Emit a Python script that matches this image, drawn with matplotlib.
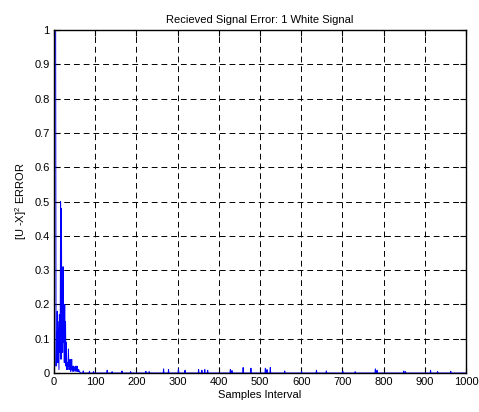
import numpy as np
import matplotlib
matplotlib.use("Agg")
import matplotlib.pyplot as plt

plt.rcParams["font.family"] = ["Liberation Sans", "DejaVu Sans"]
plt.rcParams["mathtext.default"] = "regular"

# error values for the first samples
head_vals = [1.0, 1.0, 1.0, 1.0, 0.02, 0.12, 0.05, 0.18, 0.03, 0.15, 0.08,
             0.01, 0.17, 0.06, 0.10, 0.50, 0.04, 0.48, 0.12, 0.20, 0.06,
             0.31, 0.09, 0.14, 0.03, 0.20, 0.05, 0.15, 0.02, 0.09, 0.01,
             0.03, 0.02, 0.01, 0.07, 0.02, 0.03, 0.01, 0.04, 0.005, 0.02,
             0.01, 0.04, 0.005, 0.01, 0.02, 0.005, 0.02, 0.01, 0.015, 0.005,
             0.01, 0.02, 0.005, 0.01, 0.02, 0.005, 0.01, 0.005, 0.01, 0.003,
             0.005, 0.003]

# later, isolated small bumps (sample index, error)
bump_idx = [70, 85, 95, 128, 140, 164, 185, 222, 230, 265, 277, 301, 317,
            350, 358, 365, 372, 427, 431, 458, 477, 512, 516, 524, 559,
            600, 636, 660, 700, 730, 779, 783, 848, 852, 913, 930, 962]
bump_val = [0.006, 0.005, 0.004, 0.008, 0.004, 0.006, 0.004, 0.005, 0.004,
            0.012, 0.010, 0.012, 0.008, 0.010, 0.008, 0.010, 0.008, 0.010,
            0.007, 0.016, 0.014, 0.014, 0.010, 0.016, 0.006, 0.004, 0.008,
            0.006, 0.005, 0.004, 0.012, 0.008, 0.006, 0.004, 0.008, 0.004,
            0.005]

n_samples = 1000
err = np.zeros(n_samples)
err[:len(head_vals)] = head_vals
err[bump_idx] = bump_val
samples = np.arange(1, n_samples + 1)

fig = plt.figure(figsize=(4.79, 4.12), dpi=100)
ax = fig.add_axes([54 / 479, 1 - 373 / 412, 412 / 479, 343 / 412])
ax.plot(samples, err, color="#0000ff", linewidth=0.7)

ax.set_xlim(0, 1000)
ax.set_ylim(0, 1)
ax.set_xticks(np.arange(0, 1001, 100))
ax.set_yticks(np.arange(0, 1.01, 0.1))
ax.set_yticklabels(["0", "0.1", "0.2", "0.3", "0.4", "0.5", "0.6", "0.7",
                    "0.8", "0.9", "1"])
ax.tick_params(direction="in", length=4, width=0.8, labelsize=8,
               top=True, right=True, pad=3)
ax.grid(True, color="black", linestyle=(0, (6, 4)), linewidth=0.7)
for s in ax.spines.values():
    s.set_linewidth(1.0)

ax.set_title("Recieved Signal Error: 1 White Signal", fontsize=8, pad=5)
ax.set_xlabel("Samples Interval", fontsize=8, labelpad=2)
ax.set_ylabel("[U -X]$^2$ ERROR", fontsize=8, labelpad=4)

plt.savefig("out.png", dpi=100, facecolor="white")
plt.close()
